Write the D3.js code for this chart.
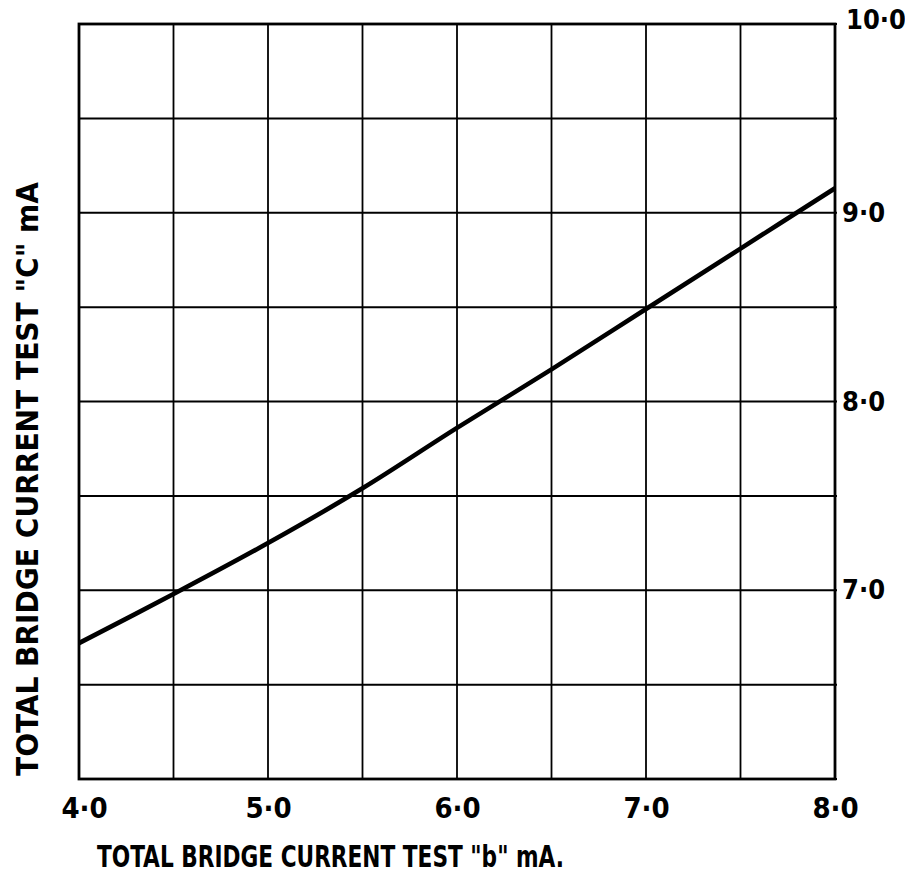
<!DOCTYPE html>
<html>
<head>
<meta charset="utf-8">
<script src="https://cdn.jsdelivr.net/npm/d3@7"></script>
<style>
  html, body { margin: 0; padding: 0; background: #fff; }
</style>
</head>
<body>
<svg id="chart" width="905" height="884"></svg>
<script>
// Data
const testB = [4.0, 4.5, 5.0, 5.5, 6.0, 6.5, 7.0, 7.5, 8.0];
const testC = [6.72, 6.98, 7.25, 7.54, 7.86, 8.17, 8.49, 8.81, 9.13];
const xTickValues = [4, 5, 6, 7, 8];
const xTickLabels = ["4·0", "5·0", "6·0", "7·0", "8·0"];
const yTickValues = [7, 8, 9, 10];
const yTickLabels = ["7·0", "8·0", "9·0", "10·0"];
const gridStep = [4, 4.5, 5, 5.5, 6, 6.5, 7, 7.5, 8];
const gridStepY = [6, 6.5, 7, 7.5, 8, 8.5, 9, 9.5, 10];
const xTitle = "TOTAL BRIDGE CURRENT TEST \"b\" mA.";
const yTitle = "TOTAL BRIDGE CURRENT TEST \"C\" mA";

const FONT = "'DejaVu Sans Condensed', 'DejaVu Sans', sans-serif";
const svg = d3.select("#chart");
const x = d3.scaleLinear().domain([4, 8]).range([79, 835]);
const y = d3.scaleLinear().domain([6, 10]).range([779, 24]);

// grid
svg.append("g").selectAll("line").data(gridStep).join("line")
  .attr("x1", d => x(d)).attr("x2", d => x(d))
  .attr("y1", y(6)).attr("y2", y(10))
  .attr("stroke", "#000").attr("stroke-width", 1.8);
svg.append("g").selectAll("line").data(gridStepY).join("line")
  .attr("x1", x(4)).attr("x2", x(8) + 2)
  .attr("y1", d => y(d)).attr("y2", d => y(d))
  .attr("stroke", "#000").attr("stroke-width", 2);

// frame
svg.append("rect")
  .attr("x", x(4)).attr("y", y(10))
  .attr("width", x(8) - x(4)).attr("height", y(6) - y(10))
  .attr("fill", "none").attr("stroke", "#000").attr("stroke-width", 2.8);

// bottom axis labels
const xAxis = d3.axisBottom(x).tickValues(xTickValues)
  .tickFormat((d, i) => xTickLabels[i]).tickSize(0).tickPadding(20);
const gx = svg.append("g").attr("transform", `translate(0,${y(6)})`).call(xAxis);
gx.select(".domain").remove();
gx.selectAll("text")
  .attr("font-size", 29).attr("font-family", FONT).attr("font-weight", "bold")
  .attr("dy", "0.35em").attr("y", 29)
  .attr("dx", (d, i) => i === 0 ? 5 : 0);

// right axis labels
const yAxis = d3.axisRight(y).tickValues(yTickValues)
  .tickFormat((d, i) => yTickLabels[i]).tickSize(0).tickPadding(8);
const gy = svg.append("g").attr("transform", `translate(${x(8)},0)`).call(yAxis);
gy.select(".domain").remove();
gy.selectAll("text")
  .attr("font-size", 27).attr("font-family", FONT).attr("font-weight", "bold")
  .attr("x", 7);
gy.selectAll(".tick").filter(d => d === 10).select("text").attr("x", 11).attr("dy", "0.15em");

// curve
const line = d3.line().x(d => x(d[0])).y(d => y(d[1])).curve(d3.curveCatmullRom);
svg.append("path")
  .datum(testB.map((b, i) => [b, testC[i]]))
  .attr("d", line)
  .attr("fill", "none").attr("stroke", "#000").attr("stroke-width", 4.6)
  .attr("stroke-linecap", "butt");

// axis titles
svg.append("text")
  .attr("x", 97).attr("y", 867)
  .attr("font-size", 30).attr("font-family", FONT).attr("font-weight", "bold")
  .attr("textLength", 467).attr("lengthAdjust", "spacingAndGlyphs")
  .text(xTitle);

svg.append("text")
  .attr("transform", "translate(38,776) rotate(-90)")
  .attr("font-size", 30).attr("font-family", FONT).attr("font-weight", "bold")
  .attr("textLength", 594).attr("lengthAdjust", "spacingAndGlyphs")
  .text(yTitle);
</script>
</body>
</html>
